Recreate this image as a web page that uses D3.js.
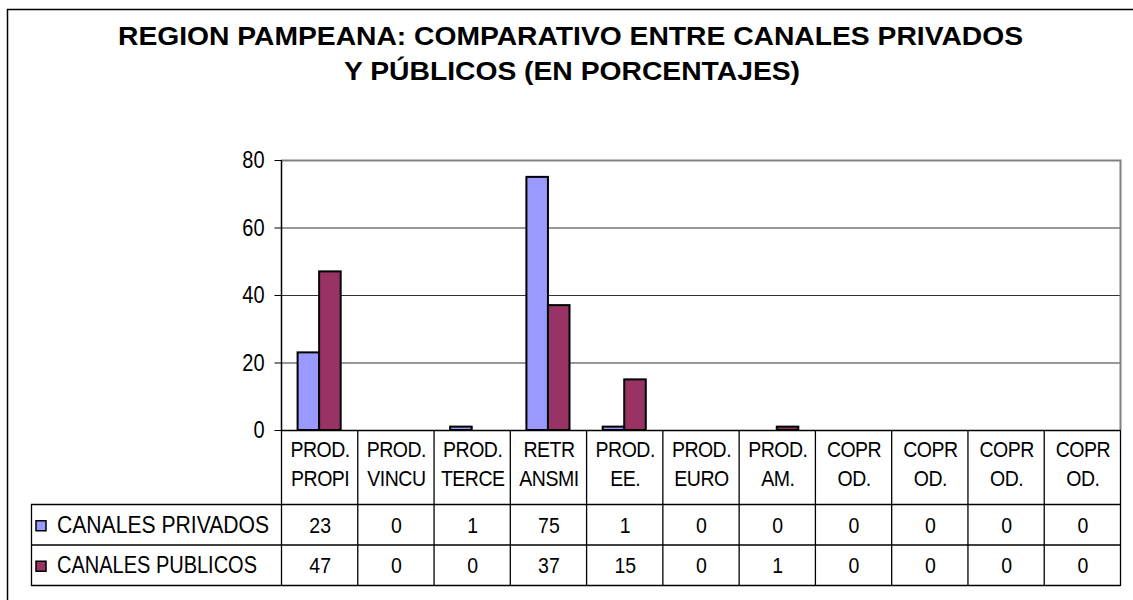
<!DOCTYPE html>
<html>
<head>
<meta charset="utf-8">
<script src="https://cdn.jsdelivr.net/npm/d3@7"></script>
<style>
    html, body { margin: 0; padding: 0; background: #fff; }
    svg { display: block; font-family: "Liberation Sans", Arial, sans-serif; }
</style>
</head>
<body>
<svg id="chart" width="1133" height="600"></svg>
<script>
// category labels, two lines each as in the table header
const categories = [
    "PROD.|PROPI", "PROD.|VINCU", "PROD.|TERCE", "RETR|ANSMI", "PROD.|EE.",
    "PROD.|EURO", "PROD.|AM.", "COPR|OD.", "COPR|OD.", "COPR|OD.", "COPR|OD."
];
const seriesNames = ["CANALES PRIVADOS", "CANALES PUBLICOS"];
const privados = [23, 0, 1, 75, 1, 0, 0, 0, 0, 0, 0];
const publicos = [47, 0, 0, 37, 15, 0, 1, 0, 0, 0, 0];
const yTicks = [0, 20, 40, 60, 80];
const titleLines = [
    "REGION PAMPEANA: COMPARATIVO ENTRE CANALES PRIVADOS",
    "Y PÚBLICOS (EN PORCENTAJES)"
];

const COLORS = ["#9999ff", "#993366"];

const PLOT_LEFT = 281;
const PLOT_RIGHT = 1120;
const PLOT_TOP = 160;
const PLOT_BOTTOM = 430;

const TABLE_LEFT = 31;
const HEADER_BOTTOM = 504;
const ROW_HEIGHT = 40.5;

// the original text is drawn a bit taller than it is wide
const STRETCH = 1.15;
const FONT = 19.5;

const svg = d3.select("#chart");

// places a text at (x, y) with the vertical stretch
function putText(sel, x, y) {
    return sel.attr("transform", `translate(${x},${y}) scale(1,${STRETCH})`);
}

// outer chart frame (runs off the right and bottom edges)
svg.append("rect")
    .attr("x", 7.5).attr("y", 9.5)
    .attr("width", 1140).attr("height", 600)
    .attr("fill", "#fff")
    .attr("stroke", "#000")
    .attr("stroke-width", 1.5);

// title
const titleSpec = [
    { y: 45, x0: 118, x1: 1023 },
    { y: 80, x0: 344, x1: 800 }
];
svg.selectAll("text.title").data(titleLines).join("text")
    .attr("class", "title")
    .each(function(d, i) { putText(d3.select(this), titleSpec[i].x0, titleSpec[i].y); })
    .attr("textLength", (d, i) => titleSpec[i].x1 - titleSpec[i].x0)
    .attr("lengthAdjust", "spacingAndGlyphs")
    .attr("font-size", 22)
    .attr("font-weight", "bold")
    .attr("fill", "#000")
    .text(d => d);

const idx = d3.range(categories.length);
const x = d3.scaleBand().domain(idx).range([PLOT_LEFT, PLOT_RIGHT]);
const xs = d3.scaleBand().domain([0, 1]).range([0, x.bandwidth()]).paddingOuter(0.77);
const y = d3.scaleLinear().domain([0, 80]).range([PLOT_BOTTOM, PLOT_TOP]);

// grid lines
svg.append("g").selectAll("line").data(yTicks.filter(t => t > 0 && t < 80)).join("line")
    .attr("x1", PLOT_LEFT).attr("x2", PLOT_RIGHT)
    .attr("y1", d => y(d) + 0.5).attr("y2", d => y(d) + 0.5)
    .attr("stroke", "#333")
    .attr("stroke-width", 1.2);

// plot border, top and right in gray
svg.append("path")
    .attr("d", `M${PLOT_LEFT},${y(80) + 0.5}H${PLOT_RIGHT + 0.5}V${PLOT_BOTTOM}`)
    .attr("fill", "none")
    .attr("stroke", "#808080")
    .attr("stroke-width", 2);

// bars
const values = [privados, publicos];
values.forEach((vals, s) => {
    svg.append("g").selectAll("rect").data(vals).join("rect")
        .attr("x", (d, i) => x(i) + xs(s))
        .attr("y", d => y(d))
        .attr("width", xs.bandwidth())
        .attr("height", d => y(0) - y(d))
        .attr("fill", COLORS[s])
        .attr("stroke", d => d > 0 ? "#000" : "none")
        .attr("stroke-width", 2);
});

// y axis
const yAxis = d3.axisLeft(y).tickValues(yTicks).tickSize(7).tickPadding(9);
const yg = svg.append("g")
    .attr("transform", `translate(${PLOT_LEFT + 0.5},0)`)
    .call(yAxis);
yg.select(".domain").remove();
yg.selectAll("line").attr("stroke", "#000");
yg.selectAll("text")
    .attr("font-family", "Liberation Sans, Arial, sans-serif")
    .attr("font-size", 20)
    .attr("dy", null)
    .attr("fill", "#000")
    .each(function() { putText(d3.select(this), -17, 7.5); })
    .attr("x", null);

svg.append("line")
    .attr("x1", PLOT_LEFT + 0.5).attr("x2", PLOT_LEFT + 0.5)
    .attr("y1", PLOT_TOP).attr("y2", PLOT_BOTTOM + 1)
    .attr("stroke", "#000").attr("stroke-width", 1.5);

// data table
const tableBottom = HEADER_BOTTOM + ROW_HEIGHT * 2;
const tg = svg.append("g").attr("stroke", "#000").attr("stroke-width", 1.3);
tg.append("line")
    .attr("x1", PLOT_LEFT).attr("x2", PLOT_RIGHT + 0.5)
    .attr("y1", PLOT_BOTTOM + 0.5).attr("y2", PLOT_BOTTOM + 0.5)
    .attr("stroke-width", 1.6);
[0, 1, 2].forEach(r => {
    tg.append("line")
        .attr("x1", TABLE_LEFT).attr("x2", PLOT_RIGHT + 0.5)
        .attr("y1", HEADER_BOTTOM + r * ROW_HEIGHT + 0.5)
        .attr("y2", HEADER_BOTTOM + r * ROW_HEIGHT + 0.5);
});
tg.append("line")
    .attr("x1", TABLE_LEFT + 0.5).attr("x2", TABLE_LEFT + 0.5)
    .attr("y1", HEADER_BOTTOM).attr("y2", tableBottom + 1);
tg.selectAll("line.col").data(idx.concat([categories.length])).join("line")
    .attr("class", "col")
    .attr("x1", i => (i < categories.length ? x(i) : PLOT_RIGHT) + 0.5)
    .attr("x2", i => (i < categories.length ? x(i) : PLOT_RIGHT) + 0.5)
    .attr("y1", PLOT_BOTTOM).attr("y2", tableBottom + 1);

// header labels
const hg = svg.append("g").attr("font-size", FONT).attr("text-anchor", "middle")
    .attr("fill", "#000").attr("letter-spacing", -0.5);
categories.forEach((c, i) => {
    c.split("|").forEach((line, k) => {
        putText(hg.append("text"), x(i) + x.bandwidth() / 2 + 1, 457 + k * 28.5)
            .text(line);
    });
});

// legend rows and values
const rg = svg.append("g").attr("font-size", FONT).attr("fill", "#000");
values.forEach((vals, s) => {
    const cy = HEADER_BOTTOM + ROW_HEIGHT * s + ROW_HEIGHT / 2 + 1;
    rg.append("rect")
        .attr("x", 36).attr("y", cy - 4.5)
        .attr("width", 10).attr("height", 10)
        .attr("fill", COLORS[s])
        .attr("stroke", "#000").attr("stroke-width", 1.5);
    putText(rg.append("text"), 57, cy + 7.5)
        .attr("font-size", 20.5)
        .attr("textLength", s === 0 ? 212 : 200)
        .attr("lengthAdjust", "spacingAndGlyphs")
        .text(seriesNames[s]);
    rg.append("g").selectAll("text").data(vals).join("text")
        .each(function(d, i) { putText(d3.select(this), x(i) + x.bandwidth() / 2 + 1, cy + 7.5); })
        .attr("text-anchor", "middle")
        .text(d => d);
});
</script>
</body>
</html>
